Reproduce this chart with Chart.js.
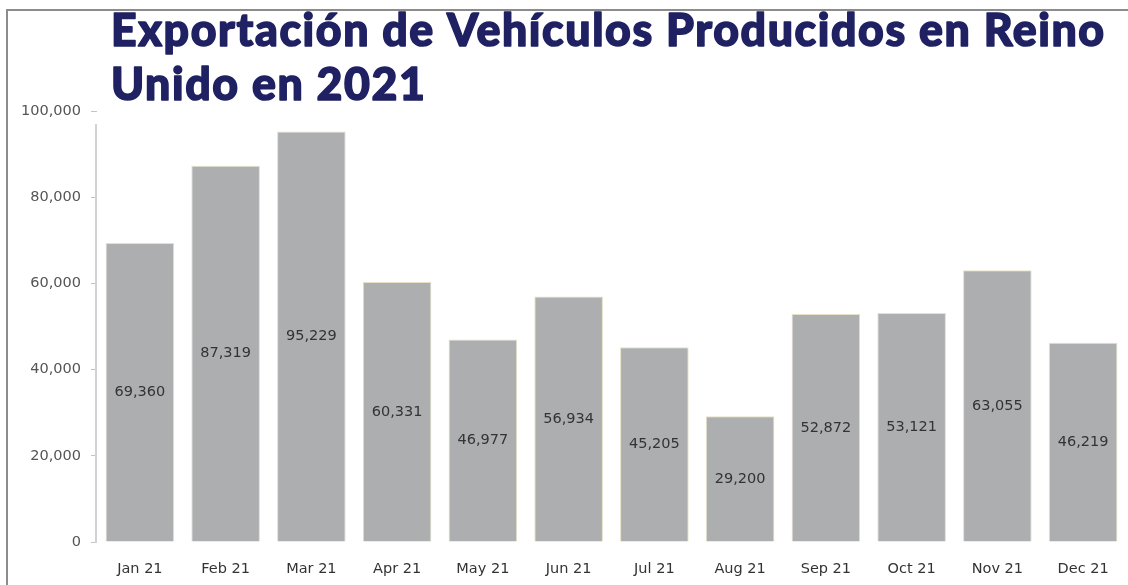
<!DOCTYPE html>
<html><head><meta charset="utf-8">
<script src="https://cdn.jsdelivr.net/npm/chart.js@4/dist/chart.umd.min.js"></script>
<style>
html,body{margin:0;padding:0;background:#fff;}
#wrap{position:relative;width:1128px;height:585px;overflow:hidden;}
#frame{position:absolute;left:6px;top:9px;right:-10px;bottom:-10px;border-left:2px solid #8c8c8c;border-top:2px solid #8c8c8c;}
canvas{position:absolute;left:0;top:0;}
</style></head><body>
<div id="wrap"><div id="frame"></div><canvas id="c" width="1128" height="585"></canvas></div>
<script>
const titleLines = ['Exportación de Vehículos Producidos en Reino', 'Unido en 2021'];
const categories = ['Jan 21','Feb 21','Mar 21','Apr 21','May 21','Jun 21','Jul 21','Aug 21','Sep 21','Oct 21','Nov 21','Dec 21'];
const exports2021 = [69360, 87319, 95229, 60331, 46977, 56934, 45205, 29200, 52872, 53121, 63055, 46219];
const yTicks = [0, 20000, 40000, 60000, 80000, 100000];

const fmt = v => Number(v).toLocaleString('en-US');
const labelFont = '14.5px "DejaVu Sans"';

const titlePlugin = {
  id: 'titleText',
  afterDraw(chart) {
    const ctx = chart.ctx;
    ctx.save();
    const spacing = 1.6;
    let size = 44;
    ctx.letterSpacing = '0px';
    ctx.font = '900 ' + size + 'px Lato';
    const w = ctx.measureText(titleLines[0]).width;
    size = size * (995 - titleLines[0].length * spacing) / w;
    ctx.font = '900 ' + size.toFixed(2) + 'px Lato';
    ctx.letterSpacing = spacing + 'px';
    ctx.fillStyle = '#1f2163';
    ctx.strokeStyle = '#1f2163';
    ctx.lineWidth = 1.5;
    ctx.lineJoin = 'round';
    ctx.textAlign = 'left';
    ctx.textBaseline = 'alphabetic';
    [[titleLines[0], 46], [titleLines[1], 100]].forEach(([t, yb]) => {
      ctx.fillText(t, 111, yb);
      ctx.strokeText(t, 111, yb);
    });
    ctx.restore();
  }
};

const axisLinePlugin = {
  id: 'axisLine',
  afterDraw(chart) {
    const a = chart.chartArea, ctx = chart.ctx;
    ctx.save();
    ctx.strokeStyle = '#d2d2d2';
    ctx.lineWidth = 2;
    ctx.beginPath();
    ctx.moveTo(a.left - 1, a.top + 13);
    ctx.lineTo(a.left - 1, a.bottom + 1);
    ctx.stroke();
    ctx.restore();
  }
};

const valueLabelPlugin = {
  id: 'valueLabels',
  afterDatasetsDraw(chart) {
    const ctx = chart.ctx;
    const meta = chart.getDatasetMeta(0);
    ctx.save();
    ctx.font = labelFont;
    ctx.fillStyle = '#333333';
    ctx.textAlign = 'center';
    ctx.textBaseline = 'middle';
    meta.data.forEach((el, i) => {
      ctx.fillText(fmt(exports2021[i]), el.x, (el.y + el.base) / 2);
    });
    ctx.restore();
  }
};

new Chart(document.getElementById('c'), {
  type: 'bar',
  data: {
    labels: categories,
    datasets: [{
      data: exports2021,
      backgroundColor: '#adaeb0',
      borderColor: '#e6e0c6',
      borderWidth: 1,
      barPercentage: 0.8,
      categoryPercentage: 1
    }]
  },
  options: {
    responsive: false,
    animation: false,
    layout: { padding: { top: 111, right: 2, left: 0, bottom: 0 } },
    plugins: { legend: { display: false }, tooltip: { enabled: false }, title: { display: false } },
    scales: {
      x: {
        grid: { display: false },
        border: { display: false },
        ticks: { color: '#333333', font: { family: 'DejaVu Sans', size: 14.5 }, padding: 11, maxRotation: 0 },
        afterFit: s => { s.height = 43; }
      },
      y: {
        min: 0, max: 100000,
        afterBuildTicks: s => { s.ticks = yTicks.map(v => ({ value: v })); },
        ticks: { color: '#555555', font: { family: 'DejaVu Sans', size: 14.5 }, padding: 10, callback: v => fmt(v) },
        grid: { drawOnChartArea: false, drawTicks: true, tickLength: 6, color: '#c4c4c4', lineWidth: 1 },
        border: { display: false },
        afterFit: s => { s.width = 97; }
      }
    }
  },
  plugins: [titlePlugin, axisLinePlugin, valueLabelPlugin]
});
</script>
</body></html>
